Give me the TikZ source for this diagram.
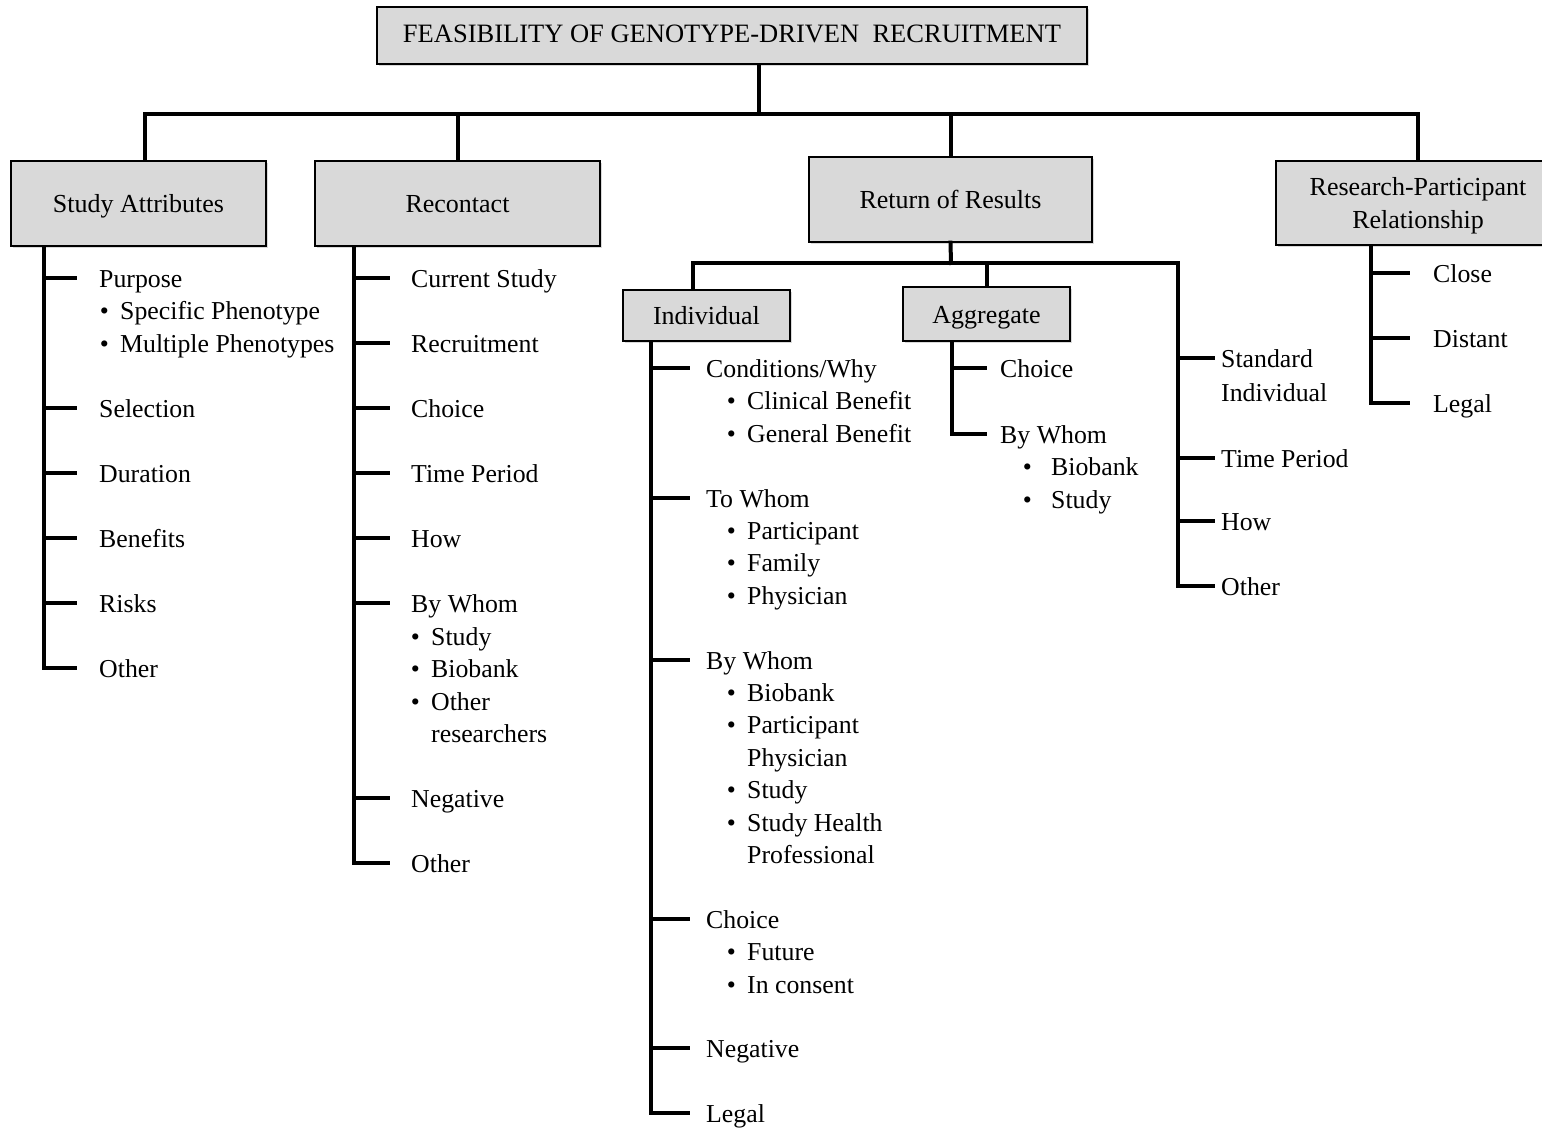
\documentclass[tikz,border=0pt]{standalone}
\usepackage{fontspec}
\setmainfont{Liberation Serif}
\usetikzlibrary{shadows}

\tikzset{
  catbox/.style={draw, line width=1.4pt, fill=black!15, inner sep=0pt, align=center,
    font=\fontsize{26}{33}\selectfont, text height=21pt, text depth=2pt,
    drop shadow={shadow xshift=2pt, shadow yshift=-2pt, opacity=0.3}},
  entry/.style={anchor=west, inner sep=0pt, text height=19pt, text depth=0pt,
    font=\fontsize{25.8}{30}\selectfont},
  link/.style={line width=4pt, line cap=rect},
}
\newcommand{\bul}[2][20.3pt]{\makebox[#1][l]{\textbullet}#2}

\begin{document}
\begin{tikzpicture}[x=1pt,y=-1pt]
\useasboundingbox (0,0) rectangle (1542,1131);

% category boxes
\node[catbox, minimum width=710pt, minimum height=57pt, font=\fontsize{26.5}{30}\selectfont, text height=18pt, text depth=3pt] (top) at (732,35.5) {FEASIBILITY OF GENOTYPE-DRIVEN\ \ RECRUITMENT};
\node[catbox, minimum width=255pt, minimum height=85pt] (sa) at (138.5,203.5) {Study Attributes};
\node[catbox, minimum width=285pt, minimum height=85pt] (rc) at (457.5,203.5) {Recontact};
\node[catbox, minimum width=283pt, minimum height=85pt] (ror) at (950.5,199.5) {Return of Results};
\node[catbox, minimum width=284pt, minimum height=84pt, text height=54pt, text depth=2pt] (rpr) at (1418,203) {Research-Participant\\Relationship};
\node[catbox, minimum width=167pt, minimum height=51pt] (ind) at (706.5,315.5) {Individual};
\node[catbox, minimum width=167pt, minimum height=54pt] (agg) at (986.5,314) {Aggregate};

% top level
\coordinate (bus) at (759,114);
\draw[link] ([xshift=27pt]top.south) -- (bus);
\draw[link] ([xshift=6.5pt]sa.north) |- (bus -| rpr.north) -- (rpr.north);
\draw[link] (rc.north) -- (rc.north |- bus);
\draw[link] (ror.north) -- (ror.north |- bus);

% study attributes
\coordinate (saS) at (44,0);
\foreach \r/\t [count=\i] in {0/Purpose, 4/Selection, 6/Duration, 8/Benefits, 10/Risks, 12/Other}{
  \node[entry] (sa\i) at (99,278+32.5*\r) {\t};
  \draw[link] (saS |- sa\i.west) -- ([xshift=-24pt]sa\i.west);
}
\foreach \r/\t [count=\i] in {1/Specific Phenotype, 2/Multiple Phenotypes}
  \node[entry] (sab\i) at (99.7,278+32.5*\r) {\bul{\t}};
\draw[link] (saS |- sa.south) -- (saS |- sa6.west);

% recontact
\coordinate (rcS) at (354,0);
\foreach \r/\t [count=\i] in {0/Current Study, 2/Recruitment, 4/Choice, 6/Time Period, 8/How, 10/By Whom, 16/Negative, 18/Other}{
  \node[entry] (rc\i) at (411,278+32.5*\r) {\t};
  \draw[link] (rcS |- rc\i.west) -- ([xshift=-23pt]rc\i.west);
}
\foreach \r/\t [count=\i] in {11/Study, 12/Biobank, 13/Other}
  \node[entry] (rcb\i) at (410.7,278+32.5*\r) {\bul{\t}};
\node[entry] (rcb4) at (431,278+32.5*14) {researchers};
\draw[link] (rcS |- rc.south) -- (rcS |- rc8.west);

% return of results
\coordinate (rbus) at (951,263);
\coordinate (indS) at (651,0);
\coordinate (aggS) at (952,0);
\coordinate (rrS) at (1178,0);
\draw[link] (ror.south) -- (rbus);
\draw[link] (agg.north) -- (agg.north |- rbus);

\foreach \r/\t [count=\i] in {0/{Conditions/Why}, 4/To Whom, 9/By Whom, 17/Choice, 21/Negative, 23/Legal}{
  \node[entry] (ind\i) at (706,368+32.4*\r) {\t};
  \draw[link] (indS |- ind\i.west) -- ([xshift=-18pt]ind\i.west);
}
\foreach \r/\t [count=\i] in {1/Clinical Benefit, 2/General Benefit, 5/Participant, 6/Family, 7/Physician, 10/Biobank, 11/Participant, 13/Study, 14/Study Health, 18/Future, 19/In consent}
  \node[entry] (indb\i) at (726.7,368+32.4*\r) {\bul{\t}};
\foreach \r/\t [count=\i] in {12/Physician, 15/Professional}
  \node[entry] (indc\i) at (747,368+32.4*\r) {\t};
\draw[link] (indS |- ind.south) -- (indS |- ind6.west);

\foreach \y/\t [count=\i] in {368.5/Choice, 433.5/By Whom}{
  \node[entry] (agg\i) at (1000,\y) {\t};
  \draw[link] (aggS |- agg\i.west) -- ([xshift=-15pt]agg\i.west);
}
\foreach \y/\t [count=\i] in {466/Biobank, 498.5/Study}
  \node[entry] (aggb\i) at (1022.7,\y) {\bul[28.3pt]{\t}};
\draw[link] (aggS |- agg.south) -- (aggS |- agg2.west);

\foreach \y/\t [count=\i] in {358.5/Standard, 457.5/Time Period, 520.5/How, 585.5/Other}{
  \node[entry] (rr\i) at (1221,\y) {\t};
  \draw[link] (rrS |- rr\i.west) -- ([xshift=-8pt]rr\i.west);
}
\node[entry] (rrb1) at (1221,392.5) {Individual};
\draw[link] ([xshift=-13.5pt]ind.north) |- (rrS |- rbus) -- (rrS |- rr4.west);

% research-participant relationship
\coordinate (rpS) at (1371,0);
\foreach \y/\t [count=\i] in {273.5/Close, 338.5/Distant, 403.5/Legal}{
  \node[entry] (rp\i) at (1433,\y) {\t};
  \draw[link] (rpS |- rp\i.west) -- ([xshift=-25pt]rp\i.west);
}
\draw[link] (rpS |- rpr.south) -- (rpS |- rp3.west);

\end{tikzpicture}
\end{document}
